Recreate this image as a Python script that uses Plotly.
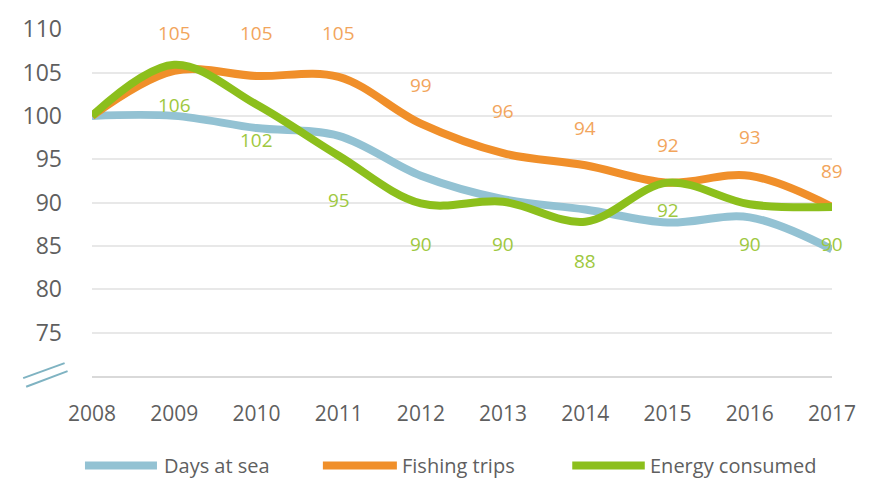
import plotly.graph_objects as go

years = [2008, 2009, 2010, 2011, 2012, 2013, 2014, 2015, 2016, 2017]
days_at_sea = [100, 100, 98.6, 97.7, 93.1, 90.4, 89.2, 87.7, 88.3, 84.6]
fishing_trips = [100, 105.2, 104.6, 104.5, 99.1, 95.7, 94.3, 92.3, 93.1, 89.5]
energy_consumed = [100, 105.9, 101.3, 95.4, 89.9, 90.1, 87.8, 92.3, 89.8, 89.5]

label_years = [2009, 2010, 2011, 2012, 2013, 2014, 2015, 2016, 2017]
fishing_labels = [105, 105, 105, 99, 96, 94, 92, 93, 89]
energy_labels = [106, 102, 95, 90, 90, 88, 92, 90, 90]

series_names = ["Days at sea", "Fishing trips", "Energy consumed"]
y_ticks = [75, 80, 85, 90, 95, 100, 105, 110]

c_blue = "#93c2d3"
c_orange = "#f08f2a"
c_green = "#8cbf1c"
c_orange_lbl = "#f2a55c"
c_green_lbl = "#9ec83e"
c_text = "#5f5f5f"
FONT = "Open Sans"

fig = go.Figure()
for vals, col, name in [(days_at_sea, c_blue, series_names[0]),
                        (fishing_trips, c_orange, series_names[1]),
                        (energy_consumed, c_green, series_names[2])]:
    fig.add_trace(go.Scatter(x=years, y=vals, mode="lines", name=name,
                             line=dict(color=col, width=8, shape="spline", smoothing=1.0),
                             showlegend=False))

annotations = []
for yr, v in zip(label_years, fishing_labels):
    annotations.append(dict(x=yr, y=v, text=str(v), showarrow=False, yshift=40,
                            font=dict(family=FONT, size=19, color=c_orange_lbl)))
for yr, v in zip(label_years, energy_labels):
    annotations.append(dict(x=yr, y=v, text=str(v), showarrow=False,
                            yshift=-25 if yr == 2015 else -41,
                            font=dict(family=FONT, size=19, color=c_green_lbl)))

# manual legend
legend_y = -0.258
legend_items = [(series_names[0], c_blue, -0.0095, 0.0878, 0.0946),
                (series_names[1], c_orange, 0.312, 0.412, 0.416),
                (series_names[2], c_green, 0.649, 0.747, 0.751)]
shapes = []
for name, col, x0, x1, xt in legend_items:
    shapes.append(dict(type="line", xref="paper", yref="paper", x0=x0, x1=x1,
                       y0=legend_y, y1=legend_y, line=dict(color=col, width=8)))
    annotations.append(dict(xref="paper", yref="paper", x=xt, y=legend_y, text=name,
                            showarrow=False, xanchor="left", yanchor="middle",
                            font=dict(family=FONT, size=20, color=c_text)))

# axis break marks
shapes.append(dict(type="line", xref="paper", yref="paper", x0=-0.093, y0=-0.006,
                   x1=-0.037, y1=0.037, line=dict(color="#7fb3c2", width=2)))
shapes.append(dict(type="line", xref="paper", yref="paper", x0=-0.089, y0=-0.031,
                   x1=-0.033, y1=0.014, line=dict(color="#7fb3c2", width=2)))

fig.update_layout(
    width=874, height=480,
    margin=dict(l=92, r=42, t=23, b=104),
    paper_bgcolor="white", plot_bgcolor="white",
    showlegend=False,
    annotations=annotations,
    shapes=shapes,
    xaxis=dict(range=[2008, 2017], tickvals=years, ticktext=[str(y) for y in years],
               showgrid=False, zeroline=False, showline=True, linecolor="#d9d9d9",
               linewidth=2, ticks="", ticklabelstandoff=18,
               tickfont=dict(family=FONT, size=21, color=c_text)),
    yaxis=dict(range=[70, 110.02], tickvals=y_ticks, showgrid=True, gridcolor="#e8e8e8",
               gridwidth=1.5, zeroline=False, showline=False, ticks="",
               ticklabelstandoff=29,
               tickfont=dict(family=FONT, size=23, color=c_text)),
)

fig.write_html("out.html", config={"displayModeBar": False},
               post_script="document.body.style.margin='0';document.body.style.overflow='hidden';")
